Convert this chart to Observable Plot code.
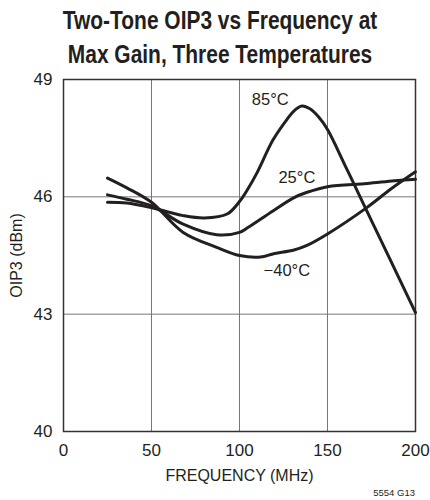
<!DOCTYPE html>
<html>
<head>
<meta charset="utf-8">
<script src="https://cdn.jsdelivr.net/npm/d3@7"></script>
<script src="https://cdn.jsdelivr.net/npm/@observablehq/plot@0.6"></script>
<style>
  body { margin: 0; background: #fff; width: 430px; height: 500px; overflow: hidden; color: #231f20; font-family: "Liberation Sans", Arial, sans-serif; }
  #title { box-sizing: border-box; height: 64px; padding-top: 3px; padding-left: 10px; text-align: center; white-space: nowrap; }
  #title span { display: inline-block; transform: scaleX(0.79); transform-origin: center; font-size: 26.5px; font-weight: bold; line-height: 34px; }
  #caption { height: 14px; font-size: 9.5px; line-height: 14px; text-align: right; padding-right: 15px; }
  svg { display: block; }
</style>
</head>
<body>
<div id="title"><span>Two-Tone OIP3 vs Frequency at<br>Max Gain, Three Temperatures</span></div>
<div id="chart"></div>
<div id="caption">5554 G13</div>
<script>
const xTicks = [0, 50, 100, 150, 200];
const yTicks = [40, 43, 46, 49];

const freq85 = [25, 36, 50, 68, 80, 93, 100, 105, 110, 119, 127, 131, 135.5, 140, 145, 150, 160, 170, 185, 200];
const oip85  = [45.86, 45.84, 45.72, 45.52, 45.46, 45.56, 45.88, 46.22, 46.62, 47.45, 47.98, 48.2, 48.32, 48.25, 48.04, 47.72, 46.8, 45.86, 44.45, 43.04];

const freq25 = [25, 36, 50, 68, 87, 100, 105, 119, 131, 138, 150, 172.5, 188, 200];
const oip25  = [46.05, 45.94, 45.77, 45.3, 45.03, 45.09, 45.22, 45.64, 45.98, 46.11, 46.26, 46.34, 46.41, 46.45];

const freqM40 = [25, 36, 50, 68, 87, 100, 112, 119, 131, 138, 150, 172.5, 186, 200];
const oipM40  = [46.48, 46.23, 45.86, 45.09, 44.71, 44.5, 44.46, 44.54, 44.64, 44.75, 45.05, 45.73, 46.2, 46.64];

const labelText = ["85°C", "25°C", "−40°C"];
const labelFreq = [117.5, 132.6, 126.9];
const labelOip  = [48.48, 46.5, 44.1];

const series = [
  {temp: "85°C", f: freq85, v: oip85},
  {temp: "25°C", f: freq25, v: oip25},
  {temp: "−40°C", f: freqM40, v: oipM40}
];
const rows = series.flatMap(s => s.f.map((f, i) => ({temp: s.temp, freq: f, oip: s.v[i]})));
const labels = labelText.map((t, i) => ({text: t, freq: labelFreq[i], oip: labelOip[i]}));

const font = '"Liberation Sans", Arial, sans-serif';

const chart = Plot.plot({
  width: 430,
  height: 422,
  marginTop: 15,
  marginBottom: 55,
  marginLeft: 63,
  marginRight: 15,
  style: {fontFamily: font, fontSize: "17px", color: "#231f20", background: "#fff"},
  x: {domain: [0, 200], ticks: xTicks, tickSize: 0, tickPadding: 12, label: "FREQUENCY (MHz)", labelAnchor: "center", labelOffset: 49, labelArrow: "none"},
  y: {domain: [40, 49], ticks: yTicks, tickSize: 0, tickPadding: 11, label: "OIP3 (dBm)", labelAnchor: "center", labelOffset: 53, labelArrow: "none"},
  marks: [
    Plot.gridX(xTicks, {stroke: "#777", strokeOpacity: 1, strokeWidth: 1}),
    Plot.gridY(yTicks, {stroke: "#777", strokeOpacity: 1, strokeWidth: 1}),
    Plot.frame({stroke: "#333", strokeWidth: 1.5}),
    Plot.line(rows, {x: "freq", y: "oip", z: "temp", stroke: "#231f20", strokeWidth: 3, curve: "catmull-rom"}),
    Plot.text(labels, {x: "freq", y: "oip", text: "text", fontSize: 16.5, fill: "#231f20", textAnchor: "middle"})
  ]
});
chart.querySelectorAll('g[aria-label="x-axis label"] text, g[aria-label="y-axis label"] text').forEach(t => t.setAttribute("font-size", "16"));
document.getElementById("chart").appendChild(chart);
</script>
</body>
</html>
